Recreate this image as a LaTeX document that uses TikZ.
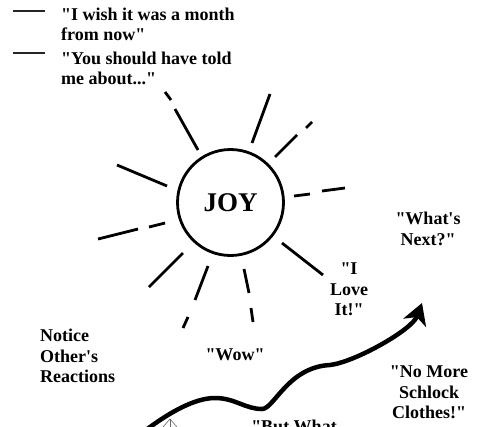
\documentclass[tikz,border=0pt]{standalone}
\usepackage{fontspec}
\setmainfont{Liberation Serif}[Ligatures=TeXOff]
\usetikzlibrary{arrows.meta}
\begin{document}
\begin{tikzpicture}[x=1pt,y=-1pt,
  lbl/.style={font=\bfseries\fontsize{18}{20.5}\selectfont, inner sep=0pt, align=center},
  lblL/.style={font=\bfseries\fontsize{18}{19.5}\selectfont, inner sep=0pt, align=left, anchor=north west},
  ray/.style={line width=2.8pt},
  rulemark/.style={line width=1.8pt, black!85},
  wave/.style={line width=4.5pt, -{Stealth[length=21pt, width=24pt, inset=6pt]}},
  ghost/.style={line width=0.6pt, black!60}]
\useasboundingbox (0,0) rectangle (478,426);
\clip (0,0) rectangle (478,426);

% top list
\coordinate (r1a) at (13,11); \coordinate (r1b) at (45,11);
\coordinate (r2a) at (13,53); \coordinate (r2b) at (45,53);
\draw[rulemark] (r1a) -- (r1b);
\draw[rulemark] (r2a) -- (r2b);
\node[lblL] (t1) at (61,8) {"I wish it was a month\\from now"};
\node[lblL] (t2) at (61,52) {"You should have told\\me about..."};

% sun
\node[circle, draw, line width=2.8pt, minimum size=106pt, inner sep=0pt,
      font=\bfseries\fontsize{27}{30}\selectfont] (joy) at (230.5,202.5) {JOY};

\draw[ray] (165,92) -- (171,100);  \draw[ray] (175,109) -- (198,150);
\draw[ray] (270,94) -- (252,143);
\draw[ray] (312,122) -- (306,128); \draw[ray] (297,135) -- (275,157);
\draw[ray] (294,196) -- (310,194); \draw[ray] (322,191) -- (345,188);
\draw[ray] (282,243) -- (323,275);
\draw[ray] (244,269) -- (249,293); \draw[ray] (251,308) -- (253,322);
\draw[ray] (208,266) -- (195,300); \draw[ray] (188,317) -- (183,328);
\draw[ray] (183,253) -- (149,287);
\draw[ray] (165,223) -- (149,227); \draw[ray] (138,229) -- (98,239);
\draw[ray] (117,165) -- (167,186);

% labels
\node[lbl, anchor=north west, align=left] (notice) at (40,329) {Notice\\Other's\\Reactions};
\node[lbl, anchor=base] (wow) at (235,360) {"Wow"};
\node[lbl, anchor=north] (love) at (349,263) {"I\\Love\\It!"};
\node[lbl, anchor=north] (next) at (428,212) {"What's\\Next?"};
\node[lbl, anchor=north] (schlock) at (429,366) {"No More\\Schlock\\Clothes!"};
\node[lbl, anchor=north] (but) at (294,420) {"But What};

% wavy arrow
\coordinate (wA) at (146,430);
\coordinate (wB) at (215,398);
\coordinate (wC) at (262,409);
\coordinate (wE) at (330,365);
\coordinate (wF) at (422,303);
\draw[wave] (wA) .. controls (170,412) and (195,398) .. (wB)
  .. controls (235,398) and (245,409) .. (wC)
  .. controls (274,409) and (288,367) .. (wE)
  .. controls (355,362) and (412,330) .. (wF);

% faint tip at bottom
\coordinate (g0) at (170,419);
\coordinate (g1) at (163,427); \coordinate (g2) at (177,427); \coordinate (g3) at (170,427);
\draw[ghost] (g1) -- (g0) -- (g2);
\draw[ghost] (g0) -- (g3);
\end{tikzpicture}
\end{document}
